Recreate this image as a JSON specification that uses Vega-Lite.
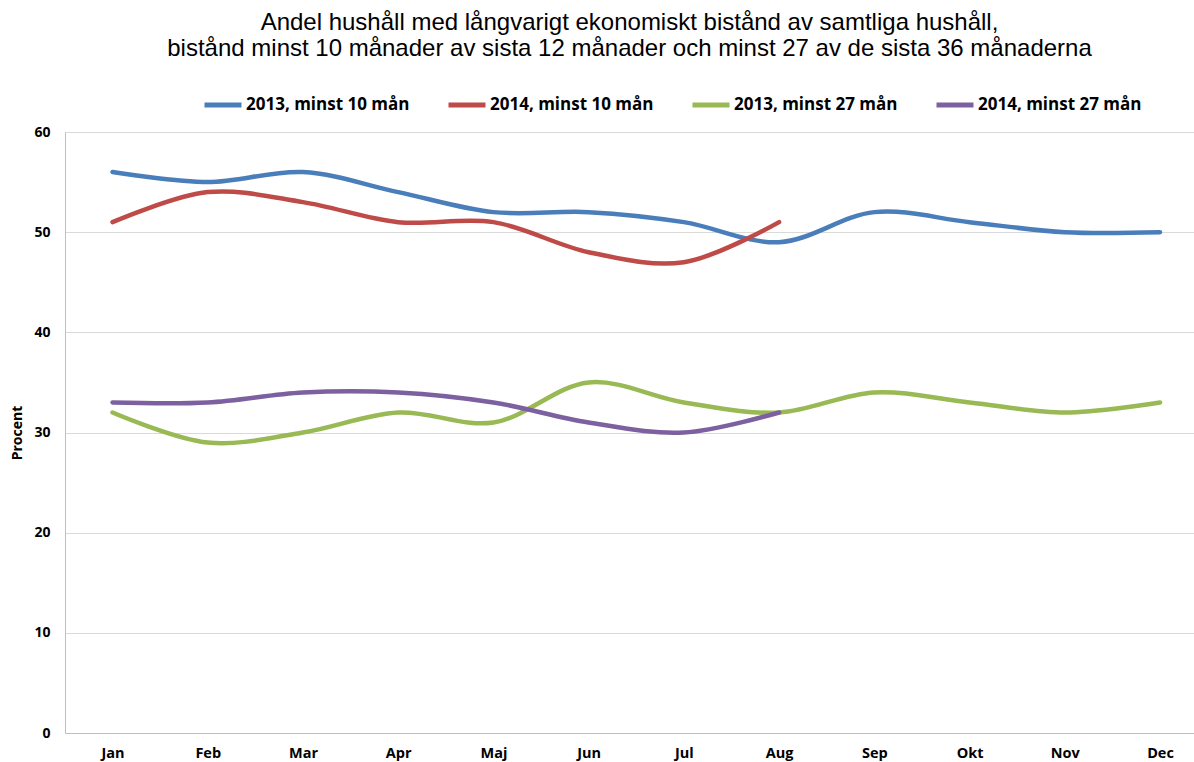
{
  "$schema": "https://vega.github.io/schema/vega-lite/v6.json",
  "width": 1129,
  "height": 601,
  "autosize": {"type": "none"},
  "padding": {"left": 65, "top": 132, "right": 0, "bottom": 29},
  "background": "white",
  "title": {
    "text": ["Andel hushåll med långvarigt ekonomiskt bistånd av samtliga hushåll,", "bistånd minst 10 månader av sista 12 månader och minst 27 av de sista 36 månaderna"],
    "font": "Liberation Sans",
    "fontSize": 24,
    "fontWeight": "normal",
    "color": "#000000",
    "anchor": "middle",
    "frame": "group",
    "lineHeight": 26,
    "offset": 23
  },
  "data": {
    "values": [
      {"m": "Jan", "s": "2013, minst 10 mån", "v": 56},
      {"m": "Feb", "s": "2013, minst 10 mån", "v": 55},
      {"m": "Mar", "s": "2013, minst 10 mån", "v": 56},
      {"m": "Apr", "s": "2013, minst 10 mån", "v": 54},
      {"m": "Maj", "s": "2013, minst 10 mån", "v": 52},
      {"m": "Jun", "s": "2013, minst 10 mån", "v": 52},
      {"m": "Jul", "s": "2013, minst 10 mån", "v": 51},
      {"m": "Aug", "s": "2013, minst 10 mån", "v": 49},
      {"m": "Sep", "s": "2013, minst 10 mån", "v": 52},
      {"m": "Okt", "s": "2013, minst 10 mån", "v": 51},
      {"m": "Nov", "s": "2013, minst 10 mån", "v": 50},
      {"m": "Dec", "s": "2013, minst 10 mån", "v": 50},
      {"m": "Jan", "s": "2014, minst 10 mån", "v": 51},
      {"m": "Feb", "s": "2014, minst 10 mån", "v": 54},
      {"m": "Mar", "s": "2014, minst 10 mån", "v": 53},
      {"m": "Apr", "s": "2014, minst 10 mån", "v": 51},
      {"m": "Maj", "s": "2014, minst 10 mån", "v": 51},
      {"m": "Jun", "s": "2014, minst 10 mån", "v": 48},
      {"m": "Jul", "s": "2014, minst 10 mån", "v": 47},
      {"m": "Aug", "s": "2014, minst 10 mån", "v": 51},
      {"m": "Jan", "s": "2013, minst 27 mån", "v": 32},
      {"m": "Feb", "s": "2013, minst 27 mån", "v": 29},
      {"m": "Mar", "s": "2013, minst 27 mån", "v": 30},
      {"m": "Apr", "s": "2013, minst 27 mån", "v": 32},
      {"m": "Maj", "s": "2013, minst 27 mån", "v": 31},
      {"m": "Jun", "s": "2013, minst 27 mån", "v": 35},
      {"m": "Jul", "s": "2013, minst 27 mån", "v": 33},
      {"m": "Aug", "s": "2013, minst 27 mån", "v": 32},
      {"m": "Sep", "s": "2013, minst 27 mån", "v": 34},
      {"m": "Okt", "s": "2013, minst 27 mån", "v": 33},
      {"m": "Nov", "s": "2013, minst 27 mån", "v": 32},
      {"m": "Dec", "s": "2013, minst 27 mån", "v": 33},
      {"m": "Jan", "s": "2014, minst 27 mån", "v": 33},
      {"m": "Feb", "s": "2014, minst 27 mån", "v": 33},
      {"m": "Mar", "s": "2014, minst 27 mån", "v": 34},
      {"m": "Apr", "s": "2014, minst 27 mån", "v": 34},
      {"m": "Maj", "s": "2014, minst 27 mån", "v": 33},
      {"m": "Jun", "s": "2014, minst 27 mån", "v": 31},
      {"m": "Jul", "s": "2014, minst 27 mån", "v": 30},
      {"m": "Aug", "s": "2014, minst 27 mån", "v": 32}
    ]
  },
  "mark": {"type": "line", "interpolate": "catmull-rom", "strokeWidth": 4.5, "strokeCap": "round"},
  "encoding": {
    "x": {
      "field": "m",
      "type": "ordinal",
      "sort": ["Jan", "Feb", "Mar", "Apr", "Maj", "Jun", "Jul", "Aug", "Sep", "Okt", "Nov", "Dec"],
      "scale": {"type": "point", "padding": 0.428, "align": 0.583},
      "axis": {
        "title": null,
        "labelAngle": 0,
        "ticks": false,
        "grid": false,
        "domainColor": "#bfbfbf",
        "labelFont": "Open Sans",
        "labelFontWeight": "bold",
        "labelFontSize": 14.5,
        "labelColor": "#000000",
        "labelPadding": 13
      }
    },
    "y": {
      "field": "v",
      "type": "quantitative",
      "scale": {"domain": [0, 60]},
      "axis": {
        "title": "Procent",
        "values": [0, 10, 20, 30, 40, 50, 60],
        "ticks": false,
        "gridColor": "#d9d9d9",
        "domainColor": "#bfbfbf",
        "labelFont": "Open Sans",
        "labelFontWeight": "bold",
        "labelFontSize": 14,
        "labelColor": "#000000",
        "labelPadding": 15,
        "titleFont": "Open Sans",
        "titleFontWeight": "bold",
        "titleFontSize": 14,
        "titleColor": "#000000",
        "titlePadding": 9
      }
    },
    "color": {
      "field": "s",
      "type": "nominal",
      "sort": ["2013, minst 10 mån", "2014, minst 10 mån", "2013, minst 27 mån", "2014, minst 27 mån"],
      "scale": {
        "domain": ["2013, minst 10 mån", "2014, minst 10 mån", "2013, minst 27 mån", "2014, minst 27 mån"],
        "range": ["#4a7ebb", "#be4b48", "#98b954", "#7d60a0"]
      },
      "legend": {
        "title": null,
        "orient": "none",
        "direction": "horizontal",
        "legendX": 137,
        "legendY": -48,
        "symbolType": "stroke",
        "symbolSize": 1369,
        "symbolStrokeWidth": 5,
        "labelFont": "Open Sans",
        "labelFontWeight": "bold",
        "labelFontSize": 17,
        "labelColor": "#000000",
        "labelOffset": 2,
        "columnPadding": 28,
        "padding": 0,
        "labelLimit": 300
      }
    }
  },
  "config": {"view": {"stroke": null}}
}
